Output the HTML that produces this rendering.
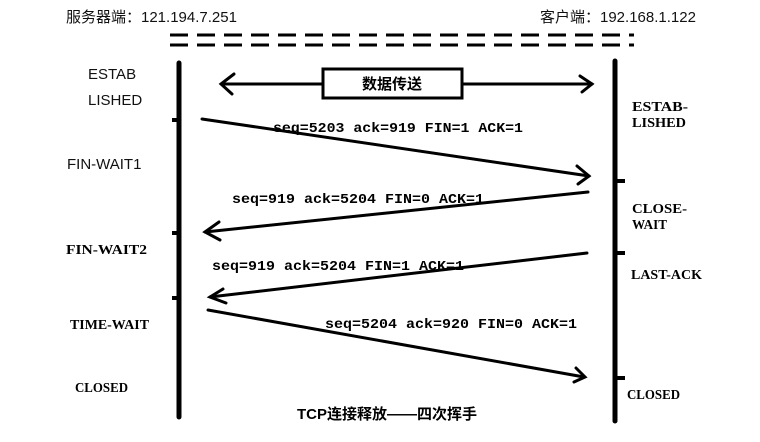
<!DOCTYPE html>
<html><head><meta charset="utf-8"><style>
html,body{margin:0;padding:0;background:#fff;}
svg{display:block;}
.s{font-family:"Liberation Sans","Noto Sans CJK SC",sans-serif;font-size:15px;fill:#111;}
.m{font-family:"Liberation Mono","Liberation Serif",monospace;font-size:14px;fill:#000;font-weight:bold;}
.r{font-family:"Liberation Serif",serif;font-size:14px;fill:#000;font-weight:bold;}
</style></head><body>
<svg width="760" height="442" viewBox="0 0 760 442" xmlns="http://www.w3.org/2000/svg">
<text class="s" x="66" y="22">服务器端：121.194.7.251</text>
<text class="s" x="540" y="22">客户端：192.168.1.122</text>
<line x1="170" y1="35" x2="634" y2="35" stroke="#000" stroke-width="3" stroke-dasharray="18,9"/>
<line x1="170" y1="45" x2="634" y2="45" stroke="#000" stroke-width="3" stroke-dasharray="18,9"/>
<g stroke="#000" stroke-linecap="round" fill="none">
<line x1="179" y1="63" x2="179" y2="417" stroke-width="5"/>
<line x1="615" y1="61" x2="615" y2="421" stroke-width="5"/>
<g stroke-width="4" stroke-linecap="butt">
<line x1="172" y1="120" x2="179" y2="120"/>
<line x1="172" y1="233" x2="179" y2="233"/>
<line x1="172" y1="298" x2="179" y2="298"/>
<line x1="615" y1="181" x2="625" y2="181"/>
<line x1="615" y1="253" x2="625" y2="253"/>
<line x1="615" y1="378" x2="625" y2="378"/>
</g>
<g stroke-width="3">
<line x1="222" y1="84" x2="592" y2="84"/>
<polyline points="234,74 221,84 232,94"/>
<polyline points="580,76 592,84 582,92"/>
<line x1="202" y1="119" x2="589" y2="176"/>
<polyline points="577,166 589,176 578,184"/>
<line x1="588" y1="192" x2="205" y2="232"/>
<polyline points="219,222 205,232 220,240"/>
<line x1="587" y1="253" x2="210" y2="297"/>
<polyline points="223,289 210,297 226,303"/>
<line x1="208" y1="310" x2="584" y2="377"/>
<polyline points="576,368 585,377 574,382"/>
</g>
</g>
<rect x="323" y="69" width="139" height="29" fill="#fff" stroke="#000" stroke-width="3"/>
<text x="392" y="89" text-anchor="middle" font-family="'Noto Sans CJK SC',sans-serif" font-size="15" font-weight="bold">数据传送</text>
<text class="s" x="88" y="79">ESTAB</text>
<text class="s" x="88" y="105">LISHED</text>
<text class="s" x="67" y="169">FIN-WAIT1</text>
<text class="r" x="66" y="254" textLength="81" lengthAdjust="spacingAndGlyphs">FIN-WAIT2</text>
<text class="r" x="70" y="329" textLength="79" lengthAdjust="spacingAndGlyphs">TIME-WAIT</text>
<text class="r" x="75" y="392" textLength="53" lengthAdjust="spacingAndGlyphs">CLOSED</text>
<text class="r" x="632" y="111" textLength="56" lengthAdjust="spacingAndGlyphs">ESTAB-</text>
<text class="r" x="632" y="127" textLength="54" lengthAdjust="spacingAndGlyphs">LISHED</text>
<text class="r" x="632" y="213" textLength="55" lengthAdjust="spacingAndGlyphs">CLOSE-</text>
<text class="r" x="632" y="229" textLength="35" lengthAdjust="spacingAndGlyphs">WAIT</text>
<text class="r" x="631" y="279" textLength="71" lengthAdjust="spacingAndGlyphs">LAST-ACK</text>
<text class="r" x="627" y="399" textLength="53" lengthAdjust="spacingAndGlyphs">CLOSED</text>
<text class="m" x="273" y="132" textLength="250" lengthAdjust="spacingAndGlyphs">seq=5203 ack=919 FIN=1 ACK=1</text>
<text class="m" x="232" y="203" textLength="252" lengthAdjust="spacingAndGlyphs">seq=919 ack=5204 FIN=0 ACK=1</text>
<text class="m" x="212" y="270" textLength="252" lengthAdjust="spacingAndGlyphs">seq=919 ack=5204 FIN=1 ACK=1</text>
<text class="m" x="325" y="328" textLength="252" lengthAdjust="spacingAndGlyphs">seq=5204 ack=920 FIN=0 ACK=1</text>
<text x="387" y="419" text-anchor="middle" font-family="'Liberation Sans','Noto Sans CJK SC',sans-serif" font-size="15" font-weight="bold">TCP连接释放——四次挥手</text>
</svg>
</body></html>
